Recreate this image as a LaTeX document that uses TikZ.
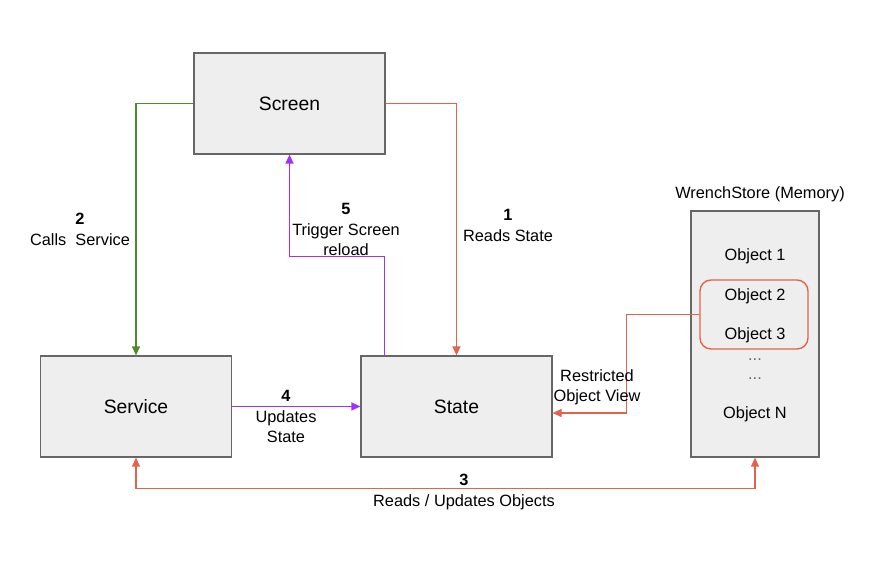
\documentclass[tikz,border=0pt]{standalone}
\usepackage{fontspec}
\setmainfont{Liberation Sans}
\usetikzlibrary{arrows.meta}
\definecolor{boxfill}{HTML}{EEEEEE}
\definecolor{boxline}{HTML}{666666}
\definecolor{callgreen}{HTML}{4D8C2C}
\definecolor{readred}{HTML}{E3634A}
\definecolor{reloadpurple}{HTML}{A030FF}
\begin{document}
\begin{tikzpicture}[x=0.02cm,y=-0.02cm,
  block/.style={draw=boxline,fill=boxfill,line width=0.7pt,minimum width=3.82cm,minimum height=2.02cm,font=\fontsize{11}{13}\selectfont},
  lbl/.style={align=center,font=\fontsize{9.3}{11.6}\selectfont},
  link/.style={line width=0.7pt,-{Triangle[length=0.18cm,width=0.16cm]}}]
\useasboundingbox (0,0) rectangle (880,587);
\tikzstyle{every node}+=[inner sep=0pt]
\node [block] (screen) at (289.5,103.5) {Screen};
\node [block] (service) at (136,406.5) {Service};
\node [block] (state) at (456.5,406.5) {State};
\node [block,minimum width=2.56cm,minimum height=4.92cm] (store) at (755,334) {};
\node [lbl] (storename) at (760,194) {WrenchStore (Memory)};
\node [lbl] (obj1) at (755,256.5) {Object 1};
\node [lbl] (obj2) at (755,296.5) {Object 2};
\node [lbl] (obj3) at (755,335.5) {Object 3};
\node [lbl,text=boxline] (dotsa) at (755,360) {...};
\node [lbl,text=boxline] (dotsb) at (755,379) {...};
\node [lbl] (objn) at (755,414.5) {Object N};
\node [draw=readred,line width=0.8pt,rounded corners=0.22cm,minimum width=2.16cm,minimum height=1.38cm] (picked) at (754,314.5) {};
\draw [link,callgreen] (screen.west) -| (service.north);
\draw [link,readred] (screen.east) -| (state.north);
\draw [link,reloadpurple] ([xshift=0.48cm]state.north west) -- ++(0,-99) -| (screen.south);
\draw [link,reloadpurple] (service.east) -- (state.west);
\draw [link,readred] (picked.west) -- ++(-73,0) |- ([yshift=-0.13cm]state.east);
\draw [line width=0.7pt,readred,{Triangle[length=0.18cm,width=0.16cm]}-{Triangle[length=0.18cm,width=0.16cm]}] (service.south) -- ++(0,31) -| (store.south);
\node [lbl] (calls) at (80,229.5) {\textbf{2}\\Calls~~Service};
\node [lbl] (reads) at (508,225.5) {\textbf{1}\\Reads State};
\node [lbl] (trigger) at (346,229.5) {\textbf{5}\\Trigger Screen\\reload};
\node [lbl] (updates) at (286,416.5) {\textbf{4}\\Updates\\State};
\node [lbl] (restricted) at (597,387.5) {Restricted\\Object View};
\node [lbl] (readsupd) at (464,492) {\textbf{3}\\Reads / Updates Objects};
\end{tikzpicture}
\end{document}
